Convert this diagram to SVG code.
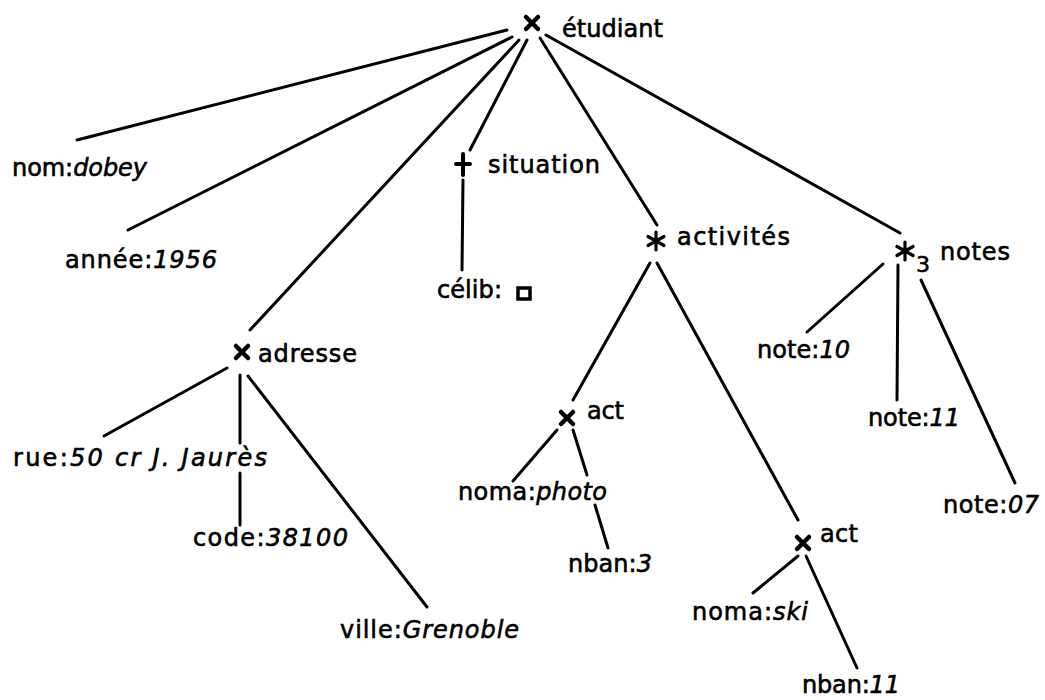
<svg xmlns="http://www.w3.org/2000/svg" width="1045" height="700" viewBox="0 0 1045 700">
<style>
text{font-family:"DejaVu Sans","Liberation Sans",sans-serif;font-size:24px;fill:#000;stroke:#000;stroke-width:0.6}
.v{font-style:italic}
.sub{font-size:22px}
.edge{stroke:#000;stroke-width:3;stroke-linecap:round;fill:none}
.sym{stroke:#000;stroke-linecap:round;fill:none}
</style>
<defs>
<g id="cross"><path class="sym" stroke-width="4.5" d="M-6,-6L6,6M6,-6L-6,6"/></g>
<g id="plus"><path class="sym" stroke-width="4" d="M-7,0H7M0,-10V11"/></g>
<g id="star"><path class="sym" stroke-width="3.2" d="M0,-9V9M-8,-4.5L8,4.5M8,-4.5L-8,4.5"/></g>
</defs>
<g id="connectors">
<line class="edge" x1="507" y1="30" x2="77" y2="140"/>
<line class="edge" x1="512" y1="37" x2="128" y2="230"/>
<line class="edge" x1="519" y1="40" x2="250" y2="330"/>
<line class="edge" x1="527" y1="40" x2="470" y2="150"/>
<line class="edge" x1="540" y1="38" x2="657" y2="225"/>
<line class="edge" x1="546" y1="35" x2="900" y2="233"/>
<line class="edge" x1="463" y1="180" x2="462" y2="270"/>
<line class="edge" x1="650" y1="263" x2="573" y2="400"/>
<line class="edge" x1="657" y1="263" x2="798" y2="520"/>
<line class="edge" x1="883" y1="264" x2="807" y2="332"/>
<line class="edge" x1="898" y1="265" x2="897" y2="400"/>
<line class="edge" x1="921" y1="280" x2="1015" y2="483"/>
<line class="edge" x1="227" y1="368" x2="104" y2="436"/>
<line class="edge" x1="240" y1="375" x2="240" y2="443"/>
<line class="edge" x1="240" y1="473" x2="240" y2="525"/>
<line class="edge" x1="248" y1="376" x2="427" y2="607"/>
<line class="edge" x1="557" y1="430" x2="513" y2="481"/>
<line class="edge" x1="573" y1="430" x2="587" y2="475"/>
<line class="edge" x1="595" y1="505" x2="608" y2="548"/>
<line class="edge" x1="798" y1="556" x2="753" y2="593"/>
<line class="edge" x1="806" y1="556" x2="857" y2="668"/>
</g>
<g id="etudiant">
<use href="#cross" x="532" y="23"/>
<text x="562" y="37" textLength="101" lengthAdjust="spacing">étudiant</text>
</g>
<g id="nom">
<text x="12" y="176" textLength="135" lengthAdjust="spacing">nom:<tspan class="v">dobey</tspan></text>
</g>
<g id="annee">
<text x="65" y="268" textLength="152" lengthAdjust="spacing">année:<tspan class="v">1956</tspan></text>
</g>
<g id="situation">
<use href="#plus" x="463" y="164"/>
<text x="488" y="173" textLength="112" lengthAdjust="spacing">situation</text>
</g>
<g id="celib">
<text x="437" y="298" textLength="65" lengthAdjust="spacing">célib:</text>
<rect x="518" y="288" width="12" height="11" fill="none" stroke="#000" stroke-width="3.5"/>
</g>
<g id="activites">
<use href="#star" x="656" y="241"/>
<text x="677" y="245" textLength="113" lengthAdjust="spacing">activités</text>
</g>
<g id="notes">
<use href="#star" x="905" y="251"/>
<text class="sub" x="916" y="272">3</text>
<text x="940" y="260" textLength="70" lengthAdjust="spacing">notes</text>
</g>
<g id="adresse">
<use href="#cross" x="242" y="352"/>
<text x="258" y="362" textLength="99" lengthAdjust="spacing">adresse</text>
</g>
<g id="rue">
<text x="13" y="466" textLength="254" lengthAdjust="spacing">rue:<tspan class="v">50 cr J. Jaurès</tspan></text>
</g>
<g id="code">
<text x="193" y="546" textLength="155" lengthAdjust="spacing">code:<tspan class="v">38100</tspan></text>
</g>
<g id="ville">
<text x="340" y="638" textLength="179" lengthAdjust="spacing">ville:<tspan class="v">Grenoble</tspan></text>
</g>
<g id="act1">
<use href="#cross" x="567" y="418"/>
<text x="587" y="419" textLength="37" lengthAdjust="spacing">act</text>
</g>
<g id="noma1">
<text x="458" y="500" textLength="149" lengthAdjust="spacing">noma:<tspan class="v">photo</tspan></text>
</g>
<g id="nban1">
<text x="568" y="572" textLength="84" lengthAdjust="spacing">nban:<tspan class="v">3</tspan></text>
</g>
<g id="act2">
<use href="#cross" x="803" y="543"/>
<text x="820" y="542" textLength="38" lengthAdjust="spacing">act</text>
</g>
<g id="noma2">
<text x="692" y="620" textLength="116" lengthAdjust="spacing">noma:<tspan class="v">ski</tspan></text>
</g>
<g id="nban2">
<text x="802" y="693" textLength="98" lengthAdjust="spacing">nban:<tspan class="v">11</tspan></text>
</g>
<g id="note10">
<text x="757" y="358" textLength="93" lengthAdjust="spacing">note:<tspan class="v">10</tspan></text>
</g>
<g id="note11">
<text x="868" y="426" textLength="92" lengthAdjust="spacing">note:<tspan class="v">11</tspan></text>
</g>
<g id="note07">
<text x="943" y="513" textLength="96" lengthAdjust="spacing">note:<tspan class="v">07</tspan></text>
</g>
</svg>
